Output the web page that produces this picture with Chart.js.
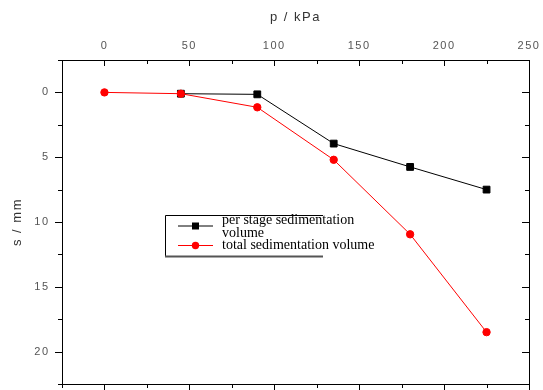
<!DOCTYPE html>
<html>
<head>
<meta charset="utf-8">
<script src="https://cdn.jsdelivr.net/npm/chart.js@4.4.1/dist/chart.umd.min.js"></script>
<style>
  body { margin: 0; background: #fff; }
  #wrap { width: 543px; height: 390px; }
</style>
</head>
<body>
<div id="wrap"><canvas id="c" width="543" height="390"></canvas></div>
<script>
// values
const pressure = [0, 45, 90, 135, 180, 225];           // p / kPa
const totalSettle = [0, 0.1, 1.15, 5.2, 10.95, 18.5];   // s / mm
const stagePressure = [45, 90, 135, 180, 225];
const stageSettle = [0.1, 0.15, 3.95, 5.75, 7.5];
const xTicks = [0, 50, 100, 150, 200, 250];
const yTicks = [0, 5, 10, 15, 20];

const stageLabel = ['per stage sedimentation', 'volume'];
const totalLabel = 'total sedimentation volume';

function pairs(xs, ys) {
    return xs.map((x, i) => ({ x: x, y: ys[i] }));
}

// spaced-out axis lettering as in the original
const spacing = {
    id: 'spacing',
    beforeDraw(chart) { chart.ctx.letterSpacing = '1.5px'; },
    afterDraw(chart) { chart.ctx.letterSpacing = '0px'; }
};

// frame tick marks, major / minor, some inward some outward
const tickMarks = {
    id: 'tickMarks',
    afterDraw(chart) {
        const ctx = chart.ctx;
        const a = chart.chartArea;
        ctx.save();
        ctx.strokeStyle = '#000';
        ctx.lineWidth = 1;
        ctx.beginPath();
        chart.scales.x.ticks.forEach(t => {
            const px = Math.round(chart.scales.x.getPixelForValue(t.value)) + 0.5;
            const len = xTicks.includes(t.value) ? 6 : 4;
            ctx.moveTo(px, a.top); ctx.lineTo(px, a.top + len);      // top, inward
            ctx.moveTo(px, a.bottom); ctx.lineTo(px, a.bottom + len); // bottom, outward
        });
        chart.scales.y.ticks.forEach(t => {
            const py = Math.round(chart.scales.y.getPixelForValue(t.value)) + 0.5;
            const len = yTicks.includes(t.value) ? 7 : 4;
            ctx.moveTo(a.left, py); ctx.lineTo(a.left - len, py);     // left, outward
            ctx.moveTo(a.right, py); ctx.lineTo(a.right - len, py);   // right, inward
        });
        ctx.stroke();
        ctx.restore();
    }
};

// boxed legend like the original, text running past the box
const boxLegend = {
    id: 'boxLegend',
    afterDraw(chart) {
        const ctx = chart.ctx;
        const ds = chart.data.datasets;
        ctx.save();
        ctx.letterSpacing = '0px';
        ctx.lineWidth = 1;
        ctx.strokeStyle = '#000';
        ctx.beginPath();
        ctx.moveTo(323, 215.5); ctx.lineTo(165.5, 215.5); ctx.lineTo(165.5, 256);
        ctx.stroke();
        ctx.strokeStyle = '#555';
        ctx.lineWidth = 2;
        ctx.beginPath();
        ctx.moveTo(165, 256.5); ctx.lineTo(323, 256.5);
        ctx.stroke();

        const rows = [
            { d: ds[1], y: 226 },
            { d: ds[0], y: 245.5 }
        ];
        rows.forEach(r => {
            ctx.strokeStyle = r.d.borderColor;
            ctx.lineWidth = 1;
            ctx.beginPath();
            ctx.moveTo(178, r.y); ctx.lineTo(213, r.y);
            ctx.stroke();
            ctx.fillStyle = r.d.pointBackgroundColor;
            ctx.beginPath();
            if (r.d.pointStyle === 'rect') {
                ctx.rect(195.5 - 3.5, r.y - 3.5, 7, 7);
            } else {
                ctx.arc(195.5, r.y, 3.7, 0, Math.PI * 2);
            }
            ctx.fill();
        });

        ctx.fillStyle = '#000';
        ctx.font = '14px "Liberation Serif"';
        ctx.textBaseline = 'middle';
        ctx.fillText(stageLabel[0], 222, 220);
        ctx.fillText(stageLabel[1], 222, 233);
        ctx.fillText(totalLabel, 222, 245.5);
        ctx.restore();
    }
};

const tickFont = { family: 'Liberation Sans', size: 11 };
const tickColor = '#555';

new Chart(document.getElementById('c'), {
    type: 'line',
    data: {
        datasets: [{
            label: totalLabel,
            data: pairs(pressure, totalSettle),
            borderColor: '#ff0000',
            backgroundColor: '#ff0000',
            pointBackgroundColor: '#ff0000',
            pointBorderColor: '#ff0000',
            pointStyle: 'circle',
            pointRadius: 3.7,
            borderWidth: 1,
            tension: 0,
            order: 0
        }, {
            label: stageLabel.join(' '),
            data: pairs(stagePressure, stageSettle),
            borderColor: '#000000',
            backgroundColor: '#000000',
            pointBackgroundColor: '#000000',
            pointBorderColor: '#000000',
            pointStyle: 'rect',
            pointRadius: 4.8,
            borderWidth: 1,
            tension: 0,
            order: 1
        }]
    },
    options: {
        responsive: false,
        animation: false,
        layout: { padding: 0 },
        plugins: {
            legend: { display: false },
            tooltip: { enabled: false }
        },
        scales: {
            x: {
                type: 'linear',
                position: 'top',
                min: -25,
                max: 250,
                ticks: {
                    stepSize: 25,
                    autoSkip: false,
                    maxRotation: 0,
                    padding: 7,
                    font: tickFont,
                    color: tickColor,
                    callback: v => xTicks.includes(v) ? String(v) : ''
                },
                grid: { display: false, drawTicks: false },
                border: { display: true, color: '#000', width: 1 },
                title: {
                    display: true,
                    text: 'p / kPa',
                    color: '#333',
                    font: { family: 'Liberation Sans', size: 13 },
                    padding: { top: 10, bottom: 0 }
                },
                afterFit: s => { s.height = 60; s.paddingLeft = 0; s.paddingRight = 0; }
            },
            x2: {
                type: 'linear',
                position: 'bottom',
                min: -25,
                max: 250,
                ticks: { display: false, stepSize: 25 },
                grid: { display: false, drawTicks: false },
                border: { display: true, color: '#000', width: 1 },
                afterFit: s => { s.height = 6; s.paddingLeft = 0; s.paddingRight = 0; }
            },
            y: {
                type: 'linear',
                position: 'left',
                reverse: true,
                min: -2.5,
                max: 22.5,
                ticks: {
                    stepSize: 2.5,
                    autoSkip: false,
                    padding: 12.5,
                    font: tickFont,
                    color: tickColor,
                    callback: v => yTicks.includes(v) ? String(v) : ''
                },
                grid: { display: false, drawTicks: false },
                border: { display: true, color: '#000', width: 1 },
                title: {
                    display: true,
                    text: 's / mm',
                    color: '#333',
                    font: { family: 'Liberation Sans', size: 13 },
                    padding: { top: 10, bottom: 0 }
                },
                afterFit: s => { s.width = 62; s.paddingTop = 0; s.paddingBottom = 0; }
            },
            y2: {
                type: 'linear',
                position: 'right',
                reverse: true,
                min: -2.5,
                max: 22.5,
                ticks: { display: false, stepSize: 2.5 },
                grid: { display: false, drawTicks: false },
                border: { display: true, color: '#000', width: 1 },
                afterFit: s => { s.width = 14; s.paddingTop = 0; s.paddingBottom = 0; }
            }
        }
    },
    plugins: [spacing, tickMarks, boxLegend]
});
</script>
</body>
</html>
